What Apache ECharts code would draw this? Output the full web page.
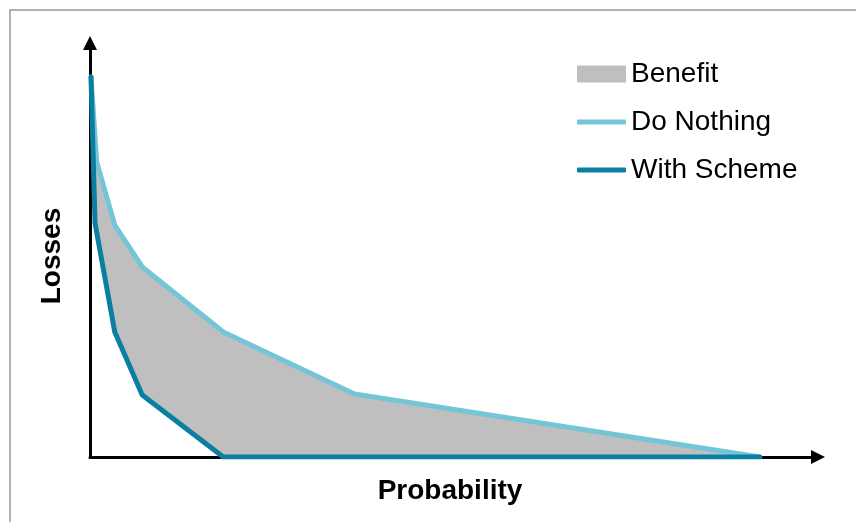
<!DOCTYPE html>
<html>
<head>
<meta charset="utf-8">
<script src="https://cdn.jsdelivr.net/npm/echarts@6/dist/echarts.min.js"></script>
<style>html,body{margin:0;padding:0;background:#fff}#c{width:856px;height:522px}</style>
</head>
<body>
<div id="c"></div>
<script>
// Data (probability, losses)
var doNothingX = [0.0015, 0.01, 0.037, 0.078, 0.199, 0.395, 1.0];
var doNothingY = [91.8, 71.3, 56.0, 45.9, 30.2, 15.2, 0];
var schemeX = [0.0015, 0.0075, 0.037, 0.078, 0.199, 1.0];
var schemeY = [91.8, 56.5, 30.2, 15.0, 0, 0];
var seriesNames = ['Benefit', 'Do Nothing', 'With Scheme'];
var axisNames = ['Probability', 'Losses'];

function pairs(xs, ys) { return xs.map(function (x, i) { return [x, ys[i]]; }); }
var doNothing = pairs(doNothingX, doNothingY);
var scheme = pairs(schemeX, schemeY);

var FONT = '"Liberation Sans", Arial, sans-serif';
var tri = 'path://M5,0 L10,10 L0,10 Z';
var chart = echarts.init(document.getElementById('c'));
var legendText = { fontFamily: FONT, fontSize: 28, color: '#000', lineHeight: 32 };
function legendOf(i, icon, top, h) {
  return { data: [{ name: seriesNames[i], icon: icon }], left: 577, top: top, padding: 0,
    itemWidth: 49, itemHeight: h, textStyle: legendText, selectedMode: false };
}
chart.setOption({
  animation: false,
  grid: { left: 90, right: 38, top: 43, bottom: 65 },
  xAxis: {
    type: 'value', min: 0, max: 1.087,
    axisLine: { show: true, lineStyle: { color: '#000', width: 3 }, symbol: ['none', tri], symbolSize: [14, 14] },
    axisTick: { show: false }, axisLabel: { show: false }, splitLine: { show: false }
  },
  yAxis: {
    type: 'value', min: 0, max: 100,
    axisLine: { show: true, lineStyle: { color: '#000', width: 3 }, symbol: ['none', tri], symbolSize: [14, 14] },
    axisTick: { show: false }, axisLabel: { show: false }, splitLine: { show: false }
  },
  legend: [
    legendOf(0, 'rect', 58, 17),
    legendOf(1, 'roundRect', 106, 5),
    legendOf(2, 'roundRect', 154, 5)
  ],
  graphic: [
    { type: 'rect', silent: true, shape: { x: 10, y: 10, width: 900, height: 600 }, style: { fill: 'none', stroke: '#999', lineWidth: 1.5 } },
    { type: 'text', x: 450, y: 491, style: { text: axisNames[0], fontFamily: FONT, fontSize: 28, fontWeight: 'bold', fill: '#000', align: 'center', verticalAlign: 'middle' } },
    { type: 'text', x: 52, y: 256, rotation: Math.PI / 2, style: { text: axisNames[1], fontFamily: FONT, fontSize: 28, fontWeight: 'bold', fill: '#000', align: 'center', verticalAlign: 'middle' } }
  ],
  series: [
    {
      name: seriesNames[0], type: 'custom', silent: true, z: 1,
      itemStyle: { color: '#BFBFBF' },
      data: [[0, 0]],
      renderItem: function (params, api) {
        var pts = doNothing.map(function (p) { return api.coord(p); });
        scheme.slice().reverse().forEach(function (p) { pts.push(api.coord(p)); });
        return { type: 'polygon', shape: { points: pts }, style: { fill: '#BFBFBF' } };
      }
    },
    {
      name: seriesNames[1], type: 'line', data: doNothing, symbol: 'none', z: 2,
      itemStyle: { color: '#74C5D7' },
      lineStyle: { color: '#74C5D7', width: 5, join: 'round', cap: 'round' }
    },
    {
      name: seriesNames[2], type: 'line', data: scheme, symbol: 'none', z: 3,
      itemStyle: { color: '#0B7FA1' },
      lineStyle: { color: '#0B7FA1', width: 5, join: 'round', cap: 'round' }
    }
  ]
});
</script>
</body>
</html>
